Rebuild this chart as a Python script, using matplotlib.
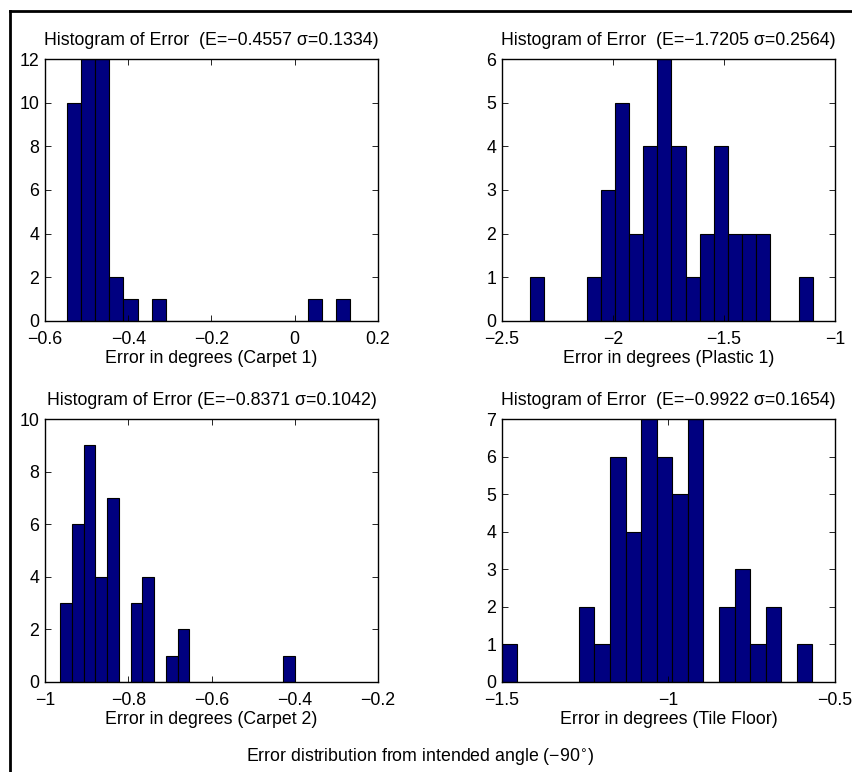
import numpy as np
import matplotlib
matplotlib.use("Agg")
import matplotlib.pyplot as plt
from matplotlib.lines import Line2D
from matplotlib.ticker import FuncFormatter

plt.rcParams['font.family'] = ['Liberation Sans', 'DejaVu Sans']
plt.rcParams['axes.unicode_minus'] = True

# histogram counts (20 bins each) and the data range the bins cover
carpet1_counts = [10, 12, 12, 2, 1, 0, 1, 0, 0, 0, 0, 0, 0, 0, 0, 0, 0, 1, 0, 1]
carpet1_range = (-0.548, 0.133)
plastic1_counts = [1, 0, 0, 0, 1, 3, 5, 2, 4, 6, 4, 1, 2, 4, 2, 2, 2, 0, 0, 1]
plastic1_range = (-2.3725, -1.1005)
carpet2_counts = [3, 6, 9, 4, 7, 0, 3, 4, 0, 1, 2, 0, 0, 0, 0, 0, 0, 0, 0, 1]
carpet2_range = (-0.964, -0.399)
tile_counts = [1, 0, 0, 0, 0, 2, 1, 6, 4, 7, 6, 5, 7, 0, 2, 3, 1, 2, 0, 1]
tile_range = (-1.503, -0.568)

titles = [
    "Histogram of Error  (E=\u22120.4557 \u03c3=0.1334)",
    "Histogram of Error  (E=\u22121.7205 \u03c3=0.2564)",
    "Histogram of Error (E=\u22120.8371 \u03c3=0.1042)",
    "Histogram of Error  (E=\u22120.9922 \u03c3=0.1654)",
]
xlabels = [
    "Error in degrees (Carpet 1)",
    "Error in degrees (Plastic 1)",
    "Error in degrees (Carpet 2)",
    "Error in degrees (Tile Floor)",
]
xticks = [
    [-0.6, -0.4, -0.2, 0, 0.2],
    [-2.5, -2, -1.5, -1],
    [-1, -0.8, -0.6, -0.4, -0.2],
    [-1.5, -1, -0.5],
]
ymax = [12, 6, 10, 7]
ystep = [2, 1, 2, 1]

counts = [carpet1_counts, plastic1_counts, carpet2_counts, tile_counts]
ranges = [carpet1_range, plastic1_range, carpet2_range, tile_range]

W, H = 853, 772
fs = 12.8
fig = plt.figure(figsize=(W / 100, H / 100), dpi=100)

# axes boxes in pixels: left, top, right, bottom
boxes = [(45, 59, 378, 321), (502, 59, 835, 321),
         (45, 419, 378, 682), (502, 419, 835, 682)]

fmt = FuncFormatter(lambda v, p: ("%g" % v).replace("-", "\u2212"))

for i in range(4):
    l, t, r, b = boxes[i]
    ax = fig.add_axes([l / W, 1 - b / H, (r - l) / W, (b - t) / H])
    lo, hi = ranges[i]
    edges = np.linspace(lo, hi, len(counts[i]) + 1)
    ax.bar(edges[:-1], counts[i], width=np.diff(edges), align='edge',
           color='#000080', edgecolor='black', linewidth=0.8)
    ax.set_xlim(xticks[i][0], xticks[i][-1])
    ax.set_ylim(0, ymax[i])
    ax.set_xticks(xticks[i])
    ax.set_yticks(np.arange(0, ymax[i] + 1, ystep[i]))
    ax.xaxis.set_major_formatter(fmt)
    ax.tick_params(direction='in', top=True, right=True, length=4,
                   width=0.6, labelsize=fs)
    ax.tick_params(axis='x', pad=7)
    ax.tick_params(axis='y', pad=4)
    ax.set_title(titles[i], fontsize=fs, pad=10)
    ax.set_xlabel(xlabels[i], fontsize=fs, labelpad=2)
    for s in ax.spines.values():
        s.set_linewidth(1.0)

fig.text(420 / W, 1 - 757 / H,
         "Error distribution from intended angle (\u221290$^{\\circ}$)",
         ha='center', va='center', fontsize=fs)

# frame along the left and top edges
fig.add_artist(Line2D([10.5 / W, 10.5 / W], [0, 1 - 10.5 / H],
                      color='black', linewidth=2))
fig.add_artist(Line2D([10.5 / W, 1], [1 - 10.5 / H, 1 - 10.5 / H],
                      color='black', linewidth=2))

fig.savefig("out.png", dpi=100)
